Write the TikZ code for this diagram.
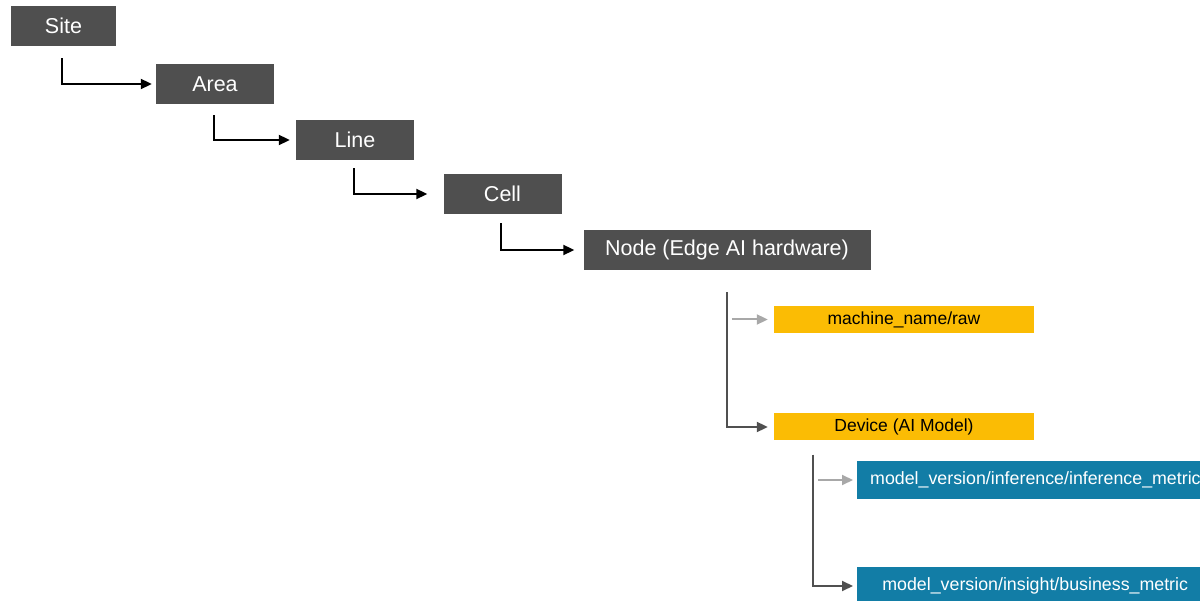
\documentclass[tikz,border=0pt]{standalone}
\usepackage{fontspec}
\setmainfont{Liberation Sans}
\usetikzlibrary{arrows.meta}
\definecolor{levelgray}{HTML}{4F4F4F}
\definecolor{topicyellow}{HTML}{FBBC04}
\definecolor{metricblue}{HTML}{127DA6}
\definecolor{linkdark}{HTML}{505050}
\definecolor{linklight}{HTML}{A8A8A8}
\tikzset{
  level/.style={fill=levelgray, text=white, inner sep=0pt, minimum height=40pt,
    font=\fontsize{21.5}{26}\selectfont},
  topic/.style={fill=topicyellow, text=black, inner sep=0pt, minimum width=260pt,
    minimum height=27pt, font=\fontsize{17.5}{21}\selectfont},
  metric/.style={fill=metricblue, text=white, inner sep=0pt, minimum height=38pt,
    font=\fontsize{17.8}{21}\selectfont},
  tip/.style={-{Triangle[length=11pt,width=10pt]}},
  blackarrow/.style={draw=black, line width=2pt, tip},
  darkarrow/.style={draw=linkdark, line width=2pt, tip},
  lightarrow/.style={draw=linklight, line width=2pt, tip}
}
\begin{document}
\begin{tikzpicture}[x=1pt, y=-1pt]
\useasboundingbox (0,0) rectangle (1200,601);
\fill[white] (0,0) rectangle (1200,601);

% hierarchy levels
\node[level, minimum width=105pt] (site) at (63.5,26) {Site};
\node[level, minimum width=118pt] (area) at (215,84) {Area};
\node[level, minimum width=118pt] (line) at (355,140) {Line};
\node[level, minimum width=118pt] (cell) at (502.5,194) {Cell};
\node[level, minimum width=287pt] (edge) at (727,250) {Node (Edge AI hardware)};

% topics under the edge node
\node[topic] (raw) at (904,319.5) {machine\_name/raw};
\node[topic] (device) at (904,427) {Device (AI Model)};

% metrics under the device
\node[metric, anchor=west, text width=360pt, align=left, inner xsep=13pt] (inference)
  at (857,480) {model\_version/inference/inference\_metric};
\node[metric, minimum width=356pt, anchor=west] (business) at (857,586)
  {model\_version/insight/business\_metric};

% level-to-level connectors
\draw[blackarrow] ([xshift=-1.5pt,yshift=-12pt]site.south) |- ([xshift=-4pt]area.west);
\draw[blackarrow] ([xshift=-1pt,yshift=-11pt]area.south) |- ([xshift=-6pt]line.west);
\draw[blackarrow] ([xshift=-1pt,yshift=-8pt]line.south) |- ([xshift=-16pt]cell.west);
\draw[blackarrow] ([xshift=-1.5pt,yshift=-9pt]cell.south) |- ([xshift=-9pt]edge.west);

% edge node branch
\coordinate (edgetrunk) at ([yshift=-22pt]edge.south);
\draw[darkarrow] (edgetrunk) |- ([xshift=-6pt]device.west);
\draw[lightarrow] ([xshift=-42pt]raw.west) -- ([xshift=-6pt]raw.west);

% device branch
\coordinate (devtrunk) at ([xshift=-91pt,yshift=-14pt]device.south);
\draw[darkarrow] (devtrunk) |- ([xshift=-4pt]business.west);
\draw[lightarrow] ([xshift=-39pt]inference.west) -- ([xshift=-4pt]inference.west);
\end{tikzpicture}
\end{document}
